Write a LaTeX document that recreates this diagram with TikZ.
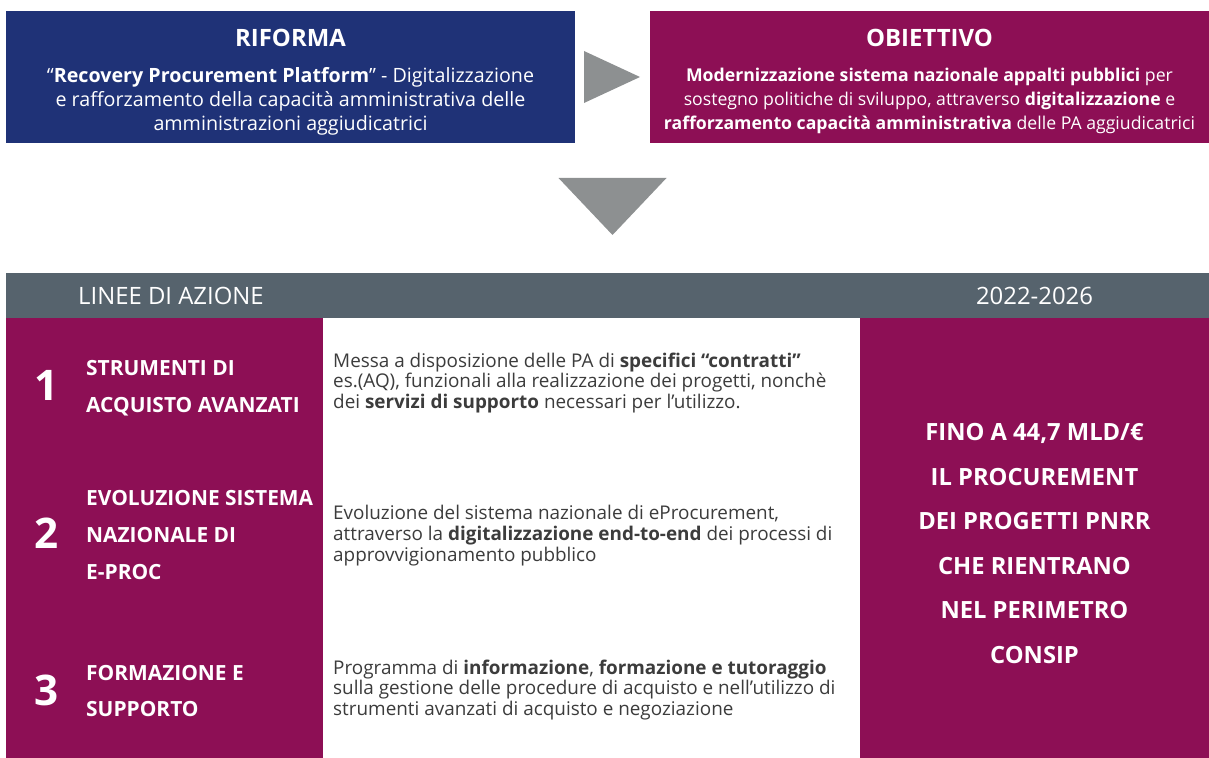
\documentclass[tikz,border=0pt]{standalone}
\usepackage{fontspec}
\setmainfont{Open Sans}
\usetikzlibrary{positioning, calc}
\definecolor{bluriforma}{HTML}{1F3277}
\definecolor{violaconsip}{HTML}{8D0F55}
\definecolor{grigioardesia}{HTML}{56636D}
\definecolor{grigiofreccia}{HTML}{8D9091}
\definecolor{grigioscuro}{HTML}{3C3C3C}
\colorlet{colBlu}{bluriforma}
\colorlet{colViola}{violaconsip}
\colorlet{colTestata}{grigioardesia}
\colorlet{colFreccia}{grigiofreccia}
\colorlet{colTesto}{grigioscuro}
\tikzset{
  riquadroBase/.style={
    draw=none, inner sep=0pt, outer sep=0pt, anchor=north west,
    minimum height=2.64cm
  },
  riquadroBlu/.style={riquadroBase, fill=colBlu, minimum width=11.38cm},
  riquadroViola/.style={riquadroBase, fill=colViola, minimum width=11.18cm},
  colonna/.style={draw=none, inner sep=0pt, outer sep=0pt, anchor=north west,
    minimum height=8.8cm},
  freccia/.style={fill=colFreccia},
  titoloBox/.style={font=\fontsize{13.6}{15}\selectfont\bfseries, text=white},
  testoBox/.style={font=\fontsize{10.05}{13.6}\selectfont, text=white, align=center},
  testoTestata/.style={font=\fontsize{13.6}{15}\selectfont, text=white},
  numeroLinea/.style={font=\fontsize{24}{28}\selectfont\bfseries, text=white},
  etichettaLinea/.style={font=\fontsize{11.9}{21}\selectfont\bfseries, text=white,
    align=left, anchor=west},
  testoLinea/.style={font=\fontsize{10.75}{11.9}\selectfont, text=colTesto,
    align=left, anchor=west},
  testoSintesi/.style={font=\fontsize{13.5}{25.3}\selectfont\bfseries, text=white,
    align=center},
}

\begin{document}
\begin{tikzpicture}
    \useasboundingbox (0,0) rectangle (24.18,-15.16);
    \node[riquadroBlu] (riforma) at (0.12,-0.22) {};
    \node[riquadroViola, right=1.5cm of riforma] (obiettivo) {};
    \node[titoloBox, yshift=-5.4mm] (rifTitolo) at (riforma.north) {RIFORMA};
    \node[titoloBox, yshift=-5.4mm] (obTitolo) at (obiettivo.north) {OBIETTIVO};
    \node[testoBox, font=\fontsize{11.2}{13.6}\selectfont, yshift=-4.8mm] (rifTesto) at (riforma.center)
      {“\textbf{Recovery Procurement Platform}” - Digitalizzazione\\
       e rafforzamento della capacità amministrativa delle\\
       amministrazioni aggiudicatrici};
    \node[testoBox, yshift=-4.8mm] (obTesto) at (obiettivo.center)
      {\textbf{Modernizzazione sistema nazionale appalti pubblici} per\\
       sostegno politiche di sviluppo, attraverso \textbf{digitalizzazione} e\\
       \textbf{rafforzamento capacità amministrativa} delle PA aggiudicatrici};
    \fill[freccia] ($(riforma.east)+(0.18,0.52)$) -- ($(riforma.east)+(1.3,0)$)
      -- ($(riforma.east)+(0.18,-0.52)$) -- cycle;
    \coordinate (snodo) at ($(riforma.south east)!0.5!(obiettivo.south west)$);
    \fill[freccia] ($(snodo)+(-1.08,-0.7)$) -- ($(snodo)+(1.08,-0.7)$)
      -- ($(snodo)+(0,-1.84)$) -- cycle;
    \node[colonna, fill=colTestata, minimum width=24.06cm, minimum height=0.9cm]
      (testata) at (0.12,-5.46) {};
    \node[colonna, fill=colViola, minimum width=6.34cm] (colonnaSx) at (testata.south west) {};
    \node[colonna, fill=white, minimum width=10.74cm, right=0pt of colonnaSx] (colonnaCentro) {};
    \node[colonna, fill=colViola, minimum width=6.98cm, right=0pt of colonnaCentro] (colonnaDx) {};
    \node[testoTestata, anchor=west, xshift=1.32cm] (lineeAzione) at (testata.west) {LINEE DI AZIONE};
    \node[testoTestata] (periodo) at (colonnaDx.center |- testata.center) {2022-2026};
    \node[numeroLinea] (num1) at (0.94,-7.7) {1};
    \node[numeroLinea] (num2) at (0.94,-10.66) {2};
    \node[numeroLinea] (num3) at (0.94,-13.8) {3};
    \node[etichettaLinea] (linea1) at (1.6,-7.76) {STRUMENTI DI\\ACQUISTO AVANZATI};
    \node[etichettaLinea] (linea2) at (1.6,-10.7) {EVOLUZIONE SISTEMA\\NAZIONALE DI\\E-PROC};
    \node[etichettaLinea] (linea3) at (1.6,-13.82) {FORMAZIONE E\\SUPPORTO};
    \node[testoLinea] (descr1) at (6.54,-7.66)
      {Messa a disposizione delle PA di \textbf{specifici “contratti”}\\
       es.(AQ), funzionali alla realizzazione dei progetti, nonchè\\
       dei \textbf{servizi di supporto} necessari per l’utilizzo.};
    \node[testoLinea] (descr2) at (6.54,-10.72)
      {Evoluzione del sistema nazionale di eProcurement,\\
       attraverso la \textbf{digitalizzazione end-to-end} dei processi di\\
       approvvigionamento pubblico};
    \node[testoLinea] (descr3) at (6.54,-13.8)
      {Programma di \textbf{informazione}, \textbf{formazione e tutoraggio}\\
       sulla gestione delle procedure di acquisto e nell’utilizzo di\\
       strumenti avanzati di acquisto e negoziazione};
    \node[testoSintesi, yshift=-1.1mm] (sintesi) at (colonnaDx.center)
      {FINO A 44,7 MLD/€\\IL PROCUREMENT\\DEI PROGETTI PNRR\\CHE RIENTRANO\\NEL PERIMETRO\\CONSIP};
  \end{tikzpicture}
\end{document}
